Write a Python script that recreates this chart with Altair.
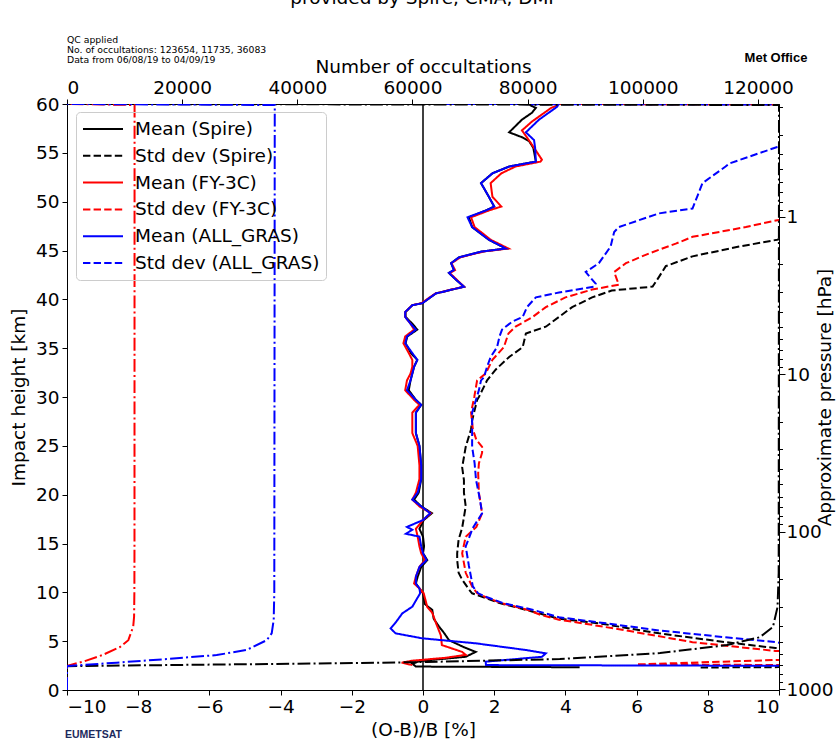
import altair as alt
import pandas as pd

FONT = "DejaVu Sans"
FS = 18.5

# ---------------- data ----------------
series_names = ["Mean (Spire)", "Std dev (Spire)", "Mean (FY-3C)", "Std dev (FY-3C)",
                "Mean (ALL_GRAS)", "Std dev (ALL_GRAS)"]
series_colors = ["black", "black", "red", "red", "blue", "blue"]
series_dashes = [[1, 0], [7.4, 3.2], [1, 0], [7.4, 3.2], [1, 0], [7.4, 3.2]]

spire_mean_h = [2.33, 2.4, 2.7, 2.95, 3.1, 3.4, 3.9, 4.4, 5.1, 5.8, 6.5, 7.3, 8.2, 8.8, 9.9, 10.4, 10.9, 11.6,
                12.6, 13.3, 14.0, 14.7, 15.7, 16.5, 17.4, 18.1, 18.8, 19.5, 20.2, 21.6, 23.0, 25.0, 26.3, 28.4,
                29.2, 29.7, 30.7, 31.7, 32.4, 33.1, 33.8, 34.5, 35.5, 36.2, 36.9, 37.5, 38.2, 38.7, 39.4, 39.6,
                40.1, 40.6, 41.0, 41.3, 42.0, 42.7, 43.0, 43.7, 44.3, 44.9, 45.2, 46.1, 47.4, 48.4, 49.1, 49.5,
                50.5, 51.9, 52.9, 53.6, 54.1, 55.5, 56.2, 56.6, 57.1, 58.4, 59.1, 59.6, 59.9]
spire_mean_v = [4.4, -0.2, -0.3, -0.1, 0.3, 1.2, 1.48, 1.14, 0.73, 0.6, 0.45, 0.3, 0.26, 0.05, 0.0, -0.1, -0.2, -0.15,
                -0.05, 0.12, 0.0, 0.03, 0.0, -0.1, 0.02, 0.25, -0.05, -0.25, -0.12, -0.05, -0.05, -0.1, -0.2, -0.2,
                -0.05, -0.2, -0.4, -0.35, -0.3, -0.25, -0.16, -0.34, -0.49, -0.44, -0.16, -0.3, -0.49, -0.49, -0.3, -0.02,
                0.17, 0.36, 0.82, 1.15, 0.93, 0.73, 0.87, 0.79, 1.01, 1.66, 2.33, 1.85, 1.38, 1.29, 1.77, 2.0,
                1.85, 1.63, 1.95, 2.42, 3.17, 3.1, 2.98, 2.78, 2.42, 2.78, 3.06, 3.17, 3.0]

spire_std_h = [2.3, 2.42, 3.5, 4.3, 4.9, 5.8, 6.8, 7.3, 8.2, 8.9, 9.5, 9.9, 10.3, 11.3, 12.0, 13.3, 14.0, 15.4,
               16.6, 18.8, 20.2, 21.5, 22.8, 24.9, 26.7, 27.6, 29.7, 30.0, 31.7, 32.8, 34.1, 35.1, 36.5, 37.2,
               38.2, 39.2, 40.2, 40.9, 41.3, 42.3, 43.4, 44.4, 45.4, 46.1, 48.0, 59.9, 60.0]
spire_std_v = [7.8, 14, 16, 9.9, 8.5, 6.63, 5.0, 3.82, 2.9, 2.15, 1.7, 1.38, 1.29, 1.1, 1.0, 0.96, 0.96, 1.0,
               1.1, 1.2, 1.15, 1.15, 1.1, 1.2, 1.35, 1.38, 1.52, 1.57, 1.8, 2.04, 2.42, 2.8, 2.89, 3.45,
               3.82, 4.19, 4.75, 5.3, 6.45, 6.63, 6.82, 7.57, 8.88, 9.95, 12, 20, 3.0]

fy_mean_h = [2.55, 2.8, 3.0, 3.3, 3.6, 3.9, 4.6, 5.6, 6.9, 7.9, 8.5, 9.9, 10.4, 10.9, 11.6, 12.6, 13.3, 14.0, 14.7,
             15.7, 16.5, 17.4, 18.1, 18.8, 19.5, 20.2, 21.6, 23.0, 25.0, 26.3, 28.4, 29.2, 29.7, 30.7, 31.7, 32.4,
             33.1, 33.8, 34.5, 35.5, 36.2, 36.9, 37.5, 38.2, 38.7, 39.4, 39.6, 40.1, 40.6, 41.0, 41.3, 42.0, 42.7,
             43.0, 43.7, 44.3, 44.9, 45.2, 46.1, 47.4, 48.4, 49.1, 49.5, 50.5, 51.9, 52.9, 53.6, 54.1, 54.3, 56.0,
             57.3, 58.2, 59.6, 59.9]
fy_mean_v = [-0.3, -0.6, -0.3, 0.64, 1.2, 1.1, 0.53, 0.5, 0.36, 0.26, 0.12, 0.02, -0.1, -0.25, -0.2, -0.1, 0.05, -0.05, -0.1,
             -0.15, -0.2, 0.0, 0.22, -0.1, -0.3, -0.2, -0.1, -0.1, -0.15, -0.3, -0.3, -0.1, -0.25, -0.5, -0.45, -0.35,
             -0.3, -0.3, -0.4, -0.55, -0.5, -0.25, -0.35, -0.5, -0.5, -0.3, -0.05, 0.15, 0.35, 0.8, 1.15, 0.95, 0.75,
             0.9, 0.8, 1.05, 1.7, 2.4, 1.9, 1.45, 1.35, 1.85, 2.2, 1.95, 1.9, 2.2, 2.6, 3.3, 3.34, 3.03,
             2.78, 3.06, 3.6, 3.8]

fy_std_h = [2.5, 2.62, 3.07, 3.3, 4.0, 4.9, 6.1, 6.7, 7.2, 7.7, 8.2, 8.9, 9.5, 9.9, 10.6, 12.0, 14.0, 15.7, 16.7,
            18.1, 20.2, 22.2, 23.2, 24.3, 24.9, 25.6, 26.7, 28.4, 30.0, 31.7, 32.4, 33.8, 35.1, 36.5, 37.2, 38.2,
            39.2, 40.2, 41.0, 41.5, 42.0, 42.8, 43.7, 44.7, 45.7, 46.4, 47.4, 48.1, 50.0, 59.9, 60.0]
fy_std_v = [14, 6.0, 9.9, 14, 9.9, 7.57, 5.7, 4.7, 3.82, 3.3, 2.95, 2.2, 1.77, 1.52, 1.38, 1.2, 1.1, 1.2, 1.5,
            1.66, 1.57, 1.55, 1.57, 1.66, 1.66, 1.5, 1.4, 1.35, 1.44, 1.52, 1.76, 1.95, 2.27, 2.4, 2.6, 3.08,
            3.45, 4.0, 4.75, 5.5, 5.45, 5.37, 5.7, 6.35, 7.1, 7.57, 9.07, 9.95, 13, 20, 3.8]

gras_mean_h = [2.46, 2.55, 2.9, 3.4, 3.75, 4.1, 4.78, 5.29, 5.8, 6.3, 7.0, 7.85, 8.53, 9.9, 10.4, 10.9, 11.6, 12.6,
               13.3, 14.0, 14.7, 15.7, 16.0, 16.4, 16.7, 17.4, 18.1, 18.8, 19.5, 20.2, 21.6, 23.0, 25.0, 26.3, 28.4,
               29.2, 29.7, 30.7, 31.7, 32.4, 33.1, 33.8, 34.5, 35.5, 36.2, 36.9, 37.5, 38.2, 38.7, 39.4, 39.6, 40.1,
               40.6, 41.0, 41.3, 42.0, 42.7, 43.0, 43.7, 44.3, 44.9, 45.2, 46.1, 47.4, 48.4, 49.1, 49.5, 50.5, 51.9,
               52.9, 53.6, 54.1, 55.5, 56.3, 57.1, 58.4, 59.7, 59.9]
gras_mean_v = [12, 1.77, 1.76, 3.34, 3.45, 2.88, 1.48, -0.02, -0.77, -0.91, -0.75, -0.58, -0.3, -0.08, -0.1, -0.2, -0.2, -0.1,
               0.1, 0.0, -0.05, -0.1, -0.48, -0.3, -0.45, 0.0, 0.2, -0.05, -0.3, -0.15, -0.05, -0.05, -0.1, -0.2, -0.2,
               -0.05, -0.2, -0.45, -0.35, -0.3, -0.25, -0.16, -0.3, -0.5, -0.45, -0.2, -0.35, -0.5, -0.5, -0.3, -0.02, 0.17,
               0.36, 0.82, 1.15, 0.93, 0.73, 0.87, 0.79, 1.01, 1.66, 2.33, 1.85, 1.38, 1.25, 1.77, 2.0, 1.85, 1.63,
               1.95, 2.42, 3.17, 3.15, 3.12, 2.89, 3.26, 3.76, 3.8]

gras_std_h = [2.5, 4.9, 5.4, 6.1, 6.8, 7.45, 8.2, 8.9, 9.5, 9.9, 10.6, 12.7, 14.7, 16.6, 18.1, 19.5, 21.5, 23.2,
              24.9, 26.7, 28.4, 30.7, 31.7, 32.0, 33.1, 34.1, 35.1, 36.2, 36.9, 37.7, 38.2, 39.2, 40.2, 40.7, 41.3,
              41.6, 42.8, 43.7, 45.4, 46.9, 47.4, 48.8, 49.3, 50.5, 51.9, 53.6, 53.9, 55.6, 58.0, 59.9, 60.0]
gras_std_v = [14, 9.9, 8.5, 6.63, 5.2, 3.82, 3.1, 2.25, 1.8, 1.55, 1.4, 1.29, 1.2, 1.4, 1.66, 1.6, 1.49, 1.45,
              1.38, 1.38, 1.38, 1.57, 1.63, 1.71, 1.8, 1.9, 2.08, 2.15, 2.22, 2.5, 2.8, 2.92, 3.17, 3.82, 4.8,
              4.85, 4.57, 4.94, 5.27, 5.37, 5.5, 6.63, 7.57, 7.7, 7.85, 8.5, 8.6, 9.95, 13, 20, 0.3]

# number of occultations per height (top axis)
spire_n_h = [0, 2.44, 2.6, 2.76, 2.87, 3.17, 3.78, 4.6, 5.4, 6.45, 8.5, 9.9, 12.0, 59.9, 60.0]
spire_n = [0, 0, 25000, 50900, 62500, 85600, 103000, 114600, 120300, 122600, 123400, 123480, 123600, 123654, 0]
fy_n_h = [0, 2.45, 2.5, 2.9, 3.6, 4.4, 5.1, 6.5, 7.5, 10.0, 15.0, 59.9, 60.0]
fy_n = [0, 0, 170, 2780, 6250, 9200, 10650, 11500, 11650, 11700, 11720, 11735, 0]
gras_n_h = [0, 2.44, 2.46, 2.8, 3.17, 3.58, 4.1, 5.1, 5.8, 7.2, 10.0, 59.9, 60.0]
gras_n = [0, 0, 170, 8630, 17310, 26000, 31210, 34680, 35550, 35900, 36000, 36083, 0]
count_colors = ["black", "red", "blue"]

x_ticks = [-10, -8, -6, -4, -2, 0, 2, 4, 6, 8, 10]
y_ticks = [0, 5, 10, 15, 20, 25, 30, 35, 40, 45, 50, 55, 60]
top_ticks = [0, 20000, 40000, 60000, 80000, 100000, 120000]
p_ticks = [0.2, 0.3, 0.4, 0.5, 0.6, 0.7, 0.8, 0.9, 1, 2, 3, 4, 5, 6, 7, 8, 9, 10, 20, 30, 40, 50, 60, 70, 80, 90,
           100, 200, 300, 400, 500, 600, 700, 800, 900, 1000]
p_bottom, p_top = 1013.25, 0.1919

header_lines = ["QC applied", "No. of occultations: 123654, 11735, 36083", "Data from 06/08/19 to 04/09/19"]
title_text = "provided by Spire, CMA, DMI"

# ---------------- tables ----------------
profiles = [(spire_mean_h, spire_mean_v), (spire_std_h, spire_std_v), (fy_mean_h, fy_mean_v),
            (fy_std_h, fy_std_v), (gras_mean_h, gras_mean_v), (gras_std_h, gras_std_v)]
rows = []
for name, (hs, vs) in zip(series_names, profiles):
    assert len(hs) == len(vs), name
    for i, (h, v) in enumerate(zip(hs, vs)):
        rows.append({"series": name, "h": h, "v": v, "i": i})
df = pd.DataFrame(rows)

crow = []
for col, (hs, ns) in zip(count_colors, [(spire_n_h, spire_n), (fy_n_h, fy_n), (gras_n_h, gras_n)]):
    assert len(hs) == len(ns), col
    for i, (h, n) in enumerate(zip(hs, ns)):
        crow.append({"col": col, "h": h, "n": n, "i": i})
dfc = pd.DataFrame(crow)

axc = dict(domainColor="black", tickColor="black", labelColor="black", titleColor="black",
           labelFontSize=FS, titleFontSize=FS, titleFontWeight="normal", labelFont=FONT, titleFont=FONT,
           grid=False, tickWidth=1, domainWidth=1)

hscale = alt.Scale(domain=[0, 60], nice=False, zero=False)

leg = dict(title=None, orient="none", legendX=9, legendY=8, symbolType="stroke",
           symbolSize=1600, symbolStrokeWidth=2, labelFontSize=FS, labelFont=FONT,
           labelColor="black", labelOffset=11, clipHeight=22, rowPadding=4.8, padding=6,
           strokeColor="#cccccc", cornerRadius=4, labelLimit=400)

main = alt.Chart(df).mark_line(strokeWidth=2, clip=True).encode(
    x=alt.X("v:Q", scale=alt.Scale(domain=[-10, 10], nice=False, zero=False),
            axis=alt.Axis(values=x_ticks, title="(O-B)/B [%]", tickSize=5, labelPadding=2, titlePadding=5, **axc)),
    y=alt.Y("h:Q", scale=hscale,
            axis=alt.Axis(values=y_ticks, title="Impact height [km]", tickSize=5, labelPadding=3, titlePadding=7, **axc)),
    color=alt.Color("series:N", scale=alt.Scale(domain=series_names, range=series_colors), legend=alt.Legend(**leg)),
    strokeDash=alt.StrokeDash("series:N", scale=alt.Scale(domain=series_names, range=series_dashes),
                              legend=alt.Legend(**leg)),
    order=alt.Order("i:Q"),
)

zero_line = alt.Chart(pd.DataFrame({"v": [0]})).mark_rule(color="black", strokeWidth=1.5).encode(x="v:Q")

layer_main = alt.layer(zero_line, main)

counts = alt.Chart(dfc).mark_line(strokeWidth=2, strokeDash=[12.8, 3.2, 2, 3.2], clip=True).encode(
    x=alt.X("n:Q", scale=alt.Scale(domain=[0, 123654], nice=False, zero=False),
            axis=alt.Axis(orient="top", values=top_ticks, format="d", title="Number of occultations",
                          tickSize=5, labelPadding=2, titlePadding=2, **axc)),
    y=alt.Y("h:Q", scale=hscale, axis=None),
    color=alt.Color("col:N", scale=None),
    detail="col:N",
    order=alt.Order("i:Q"),
)

major_test = "datum.value == 1 || datum.value == 10 || datum.value == 100 || datum.value == 1000"
pressure = alt.Chart(pd.DataFrame({"p": [100]})).mark_rule(opacity=0).encode(
    y=alt.Y("p:Q", scale=alt.Scale(type="log", domain=[p_bottom, p_top], nice=False),
            axis=alt.Axis(orient="right", values=p_ticks, title="Approximate pressure [hPa]", titleAngle=270,
                          labelExpr="(" + major_test + ") ? format(datum.value, 'd') : ''",
                          tickSize={"condition": {"test": major_test, "value": 6}, "value": 3.5},
                          labelPadding=1, titlePadding=1, labelBaseline="middle", **axc)),
)

header = alt.Chart(pd.DataFrame({"a": [0]})).mark_text(
    text=header_lines, align="left", baseline="alphabetic", fontSize=9.3, font=FONT, lineHeight=10, color="black"
).encode(x=alt.value(0), y=alt.value(-61))

top_title = alt.Chart(pd.DataFrame({"a": [0]})).mark_text(
    text=title_text, align="center", baseline="alphabetic", fontSize=FS, font=FONT, color="black"
).encode(x=alt.value(355), y=alt.value(-100))

met = alt.Chart(pd.DataFrame({"a": [0]})).mark_text(
    text="Met Office", align="center", baseline="alphabetic", fontSize=13, font="Liberation Sans",
    fontWeight="bold", color="black"
).encode(x=alt.value(709), y=alt.value(-42))

eum = alt.Chart(pd.DataFrame({"a": [0]})).mark_text(
    text="EUMETSAT", align="left", baseline="alphabetic", fontSize=10.5, font="Liberation Sans",
    fontWeight="bold", color="#1c2a5c"
).encode(x=alt.value(-2), y=alt.value(634))

chart = alt.layer(layer_main, counts, pressure, header, top_title, met, eum).resolve_scale(
    x="independent", y="independent", color="independent", strokeDash="independent"
).properties(
    width=712, height=586,
    padding={"left": 67, "top": 104, "right": 57, "bottom": 49},
    autosize=alt.AutoSizeParams(type="none"),
).configure(font=FONT).configure_view(stroke="black", strokeWidth=1)

chart.save("out.html", embed_options={"renderer": "svg", "actions": False})
